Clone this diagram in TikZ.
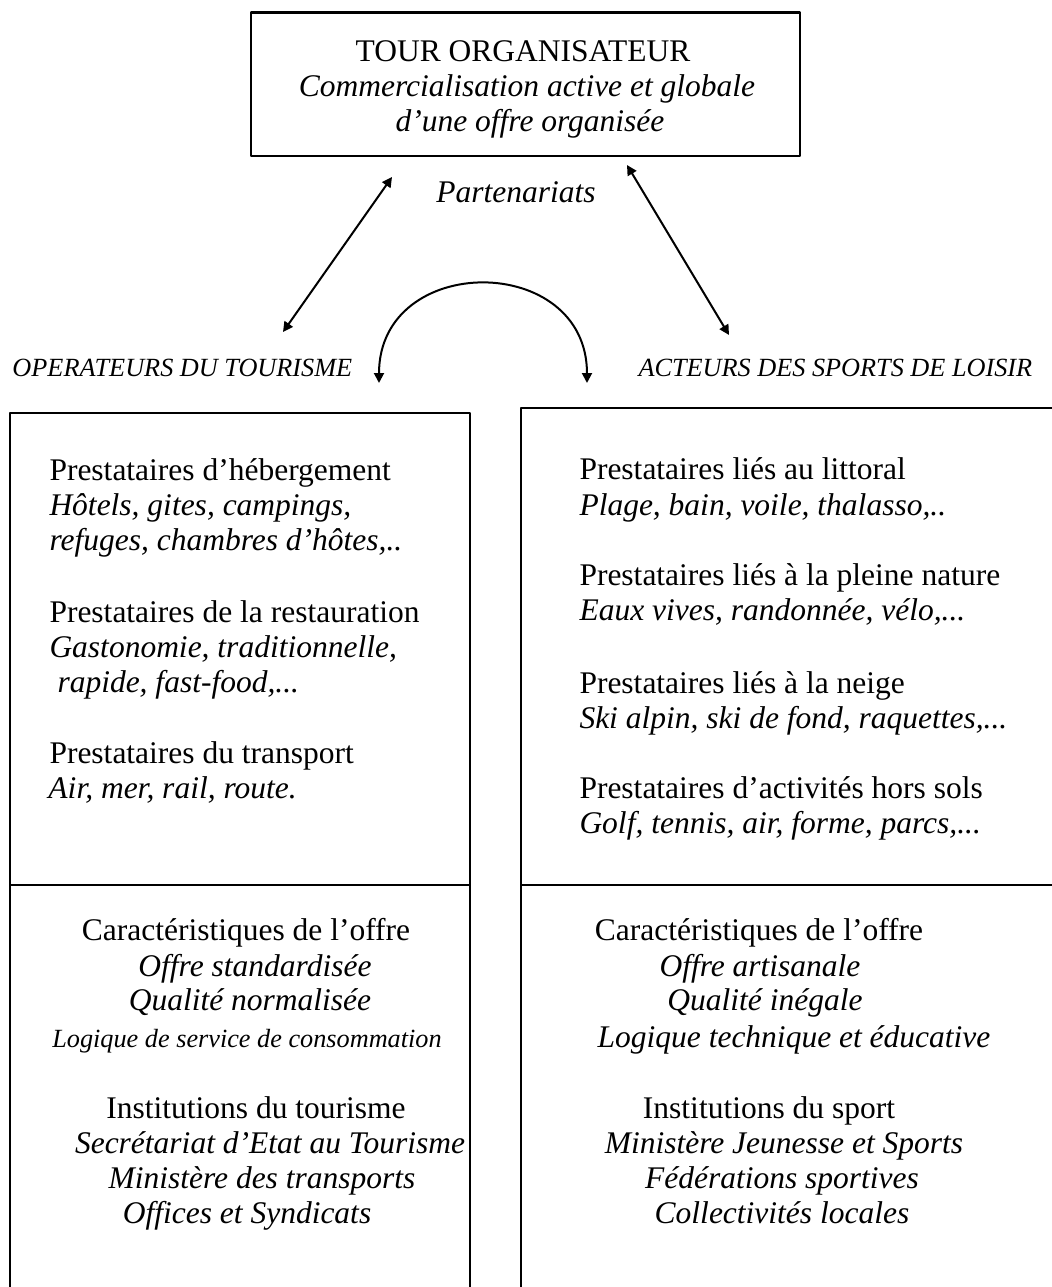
\documentclass[tikz,border=0pt]{standalone}
\usepackage{fontspec}
\setmainfont{Liberation Serif}
\usetikzlibrary{arrows.meta}
\tikzset{
  panel/.style={line width=1.1pt},
  fleche/.style={<->, line width=0.8pt},
  txt/.style={inner sep=0pt, anchor=base west, font=\fontsize{12.6}{15}\selectfont},
  itx/.style={txt, font=\fontsize{12.6}{15}\selectfont\itshape},
  petit/.style={txt, font=\fontsize{10.5}{12}\selectfont\itshape},
}
\begin{document}
\begin{tikzpicture}[x=0.4pt, y=-0.4pt, line join=round, >={Stealth[length=4pt,width=4pt,inset=0pt]}]
            \clip (0,0) rectangle (1052,1287);
            % tour organisateur
            \node[draw, panel, minimum width=219.6pt, minimum height=57.3pt] (TO) at (525.5,84.4) {};
            \node[txt, anchor=base] (to1) at (523,61) {TOUR ORGANISATEUR};
            \node[itx, anchor=base] (to2) at (527,96) {Commercialisation active et globale};
            \node[itx, anchor=base] (to3) at (530,131) {d’une offre organisée};
            \node[itx, anchor=base] (part) at (516,202) {Partenariats};
            % fleches
            \coordinate (aL1) at (392,177); \coordinate (aL2) at (283,332);
            \coordinate (aR1) at (627,165); \coordinate (aR2) at (729,335);
            \coordinate (arcL) at (379,383); \coordinate (arcR) at (587,383);
            \draw[fleche] (aL1) -- (aL2);
            \draw[fleche] (aR1) -- (aR2);
            \draw[fleche] (arcL) .. controls +(0,-131) and +(0,-131) .. (arcR);
            \node[petit] (opT) at (12,376) {OPERATEURS DU TOURISME};
            \node[petit] (acS) at (638,376) {ACTEURS DES SPORTS DE LOISIR};
            % cadres
            \draw[panel] (10,1300) -- (10,413) -- (470,413) -- (470,1300);
            \draw[panel] (10,885) -- (470,885);
            \draw[panel] (521,1300) -- (521,408) -- (1060,408);
            \draw[panel] (521,885) -- (1060,885);
            % operateurs du tourisme
            \node[txt] (g1) at (49,480) {Prestataires d’hébergement};
            \node[itx] (g2) at (49,515) {Hôtels, gites, campings,};
            \node[itx] (g3) at (49,550) {refuges, chambres d’hôtes,..};
            \node[txt] (g4) at (49,622) {Prestataires de la restauration};
            \node[itx] (g5) at (49,657) {Gastonomie, traditionnelle,};
            \node[itx] (g6) at (57,692) {rapide, fast-food,...};
            \node[txt] (g7) at (49,763) {Prestataires du transport};
            \node[itx] (g8) at (48,798) {Air, mer, rail, route.};
            % acteurs des sports de loisir
            \node[txt] (d1) at (579,479) {Prestataires liés au littoral};
            \node[itx] (d2) at (579,515) {Plage, bain, voile, thalasso,..};
            \node[txt] (d3) at (579,585) {Prestataires liés à la pleine nature};
            \node[itx] (d4) at (579,620) {Eaux vives, randonnée, vélo,...};
            \node[txt] (d5) at (579,693) {Prestataires liés à la neige};
            \node[itx] (d6) at (579,728) {Ski alpin, ski de fond, raquettes,...};
            \node[txt] (d7) at (579,798) {Prestataires d’activités hors sols};
            \node[itx] (d8) at (579,833) {Golf, tennis, air, forme, parcs,...};
            % caracteristiques et institutions
            \node[txt, anchor=base] (cg1) at (246,940) {Caractéristiques de l’offre};
            \node[itx, anchor=base] (cg2) at (255,976) {Offre standardisée};
            \node[itx, anchor=base] (cg3) at (250,1010) {Qualité normalisée};
            \node[petit, anchor=base] (cg4) at (247,1047) {Logique de service de consommation};
            \node[txt, anchor=base] (ig1) at (256,1118) {Institutions du tourisme};
            \node[itx, anchor=base] (ig2) at (270,1153) {Secrétariat d’Etat au Tourisme};
            \node[itx, anchor=base] (ig3) at (262,1188) {Ministère des transports};
            \node[itx, anchor=base] (ig4) at (247,1223) {Offices et Syndicats};
            \node[txt, anchor=base] (cd1) at (759,940) {Caractéristiques de l’offre};
            \node[itx, anchor=base] (cd2) at (760,976) {Offre artisanale};
            \node[itx, anchor=base] (cd3) at (765,1010) {Qualité inégale};
            \node[itx, anchor=base] (cd4) at (794,1047) {Logique technique et éducative};
            \node[txt, anchor=base] (id1) at (769,1118) {Institutions du sport};
            \node[itx, anchor=base] (id2) at (784,1153) {Ministère Jeunesse et Sports};
            \node[itx, anchor=base] (id3) at (782,1188) {Fédérations sportives};
            \node[itx, anchor=base] (id4) at (782,1223) {Collectivités locales};
        \end{tikzpicture}
\end{document}
